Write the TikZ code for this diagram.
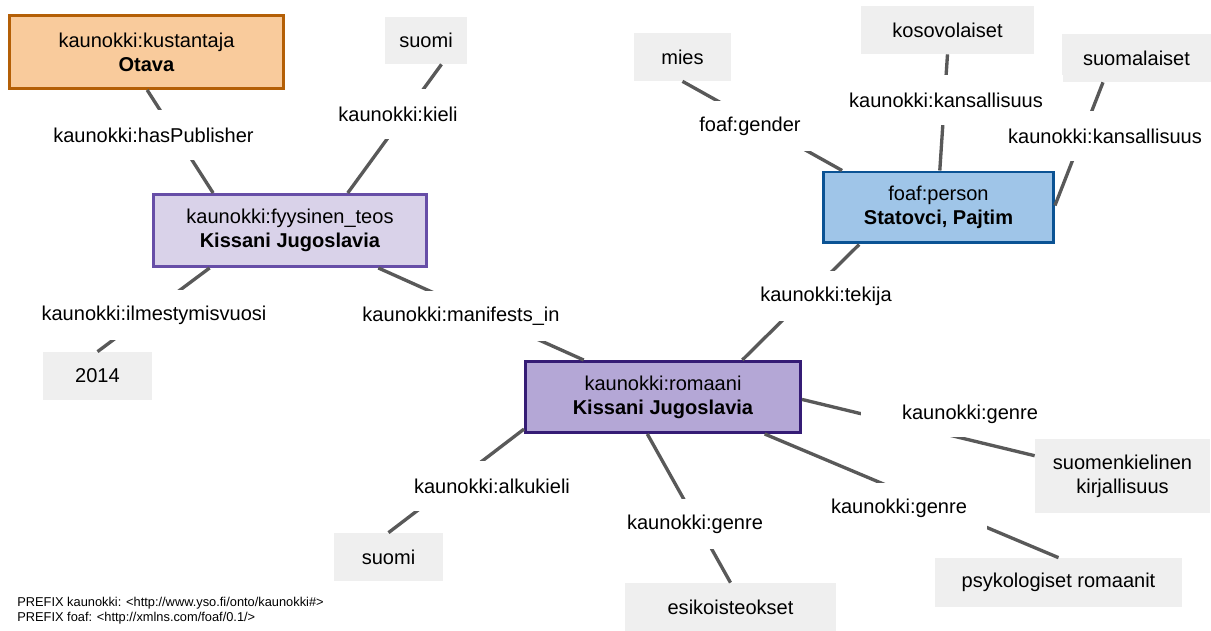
\documentclass[tikz,border=0pt]{standalone}
\usepackage{fontspec}
\setmainfont{Liberation Sans}

\definecolor{pubfill}{HTML}{F9CB9C}
\definecolor{pubdraw}{HTML}{B45F06}
\definecolor{teosfill}{HTML}{D9D2E9}
\definecolor{teosdraw}{HTML}{674EA7}
\definecolor{romfill}{HTML}{B4A7D6}
\definecolor{romdraw}{HTML}{351C75}
\definecolor{persfill}{HTML}{9FC5E8}
\definecolor{persdraw}{HTML}{0B5394}
\definecolor{valfill}{HTML}{EFEFEF}
\definecolor{linkgray}{HTML}{595959}

\begin{document}
\begin{tikzpicture}[x=0.02cm,y=-0.02cm,
    every node/.style={font=\fontsize{11.4}{13.7}\selectfont, align=center, inner sep=0pt},
    classbox/.style={draw, line width=1.7pt},
    valbox/.style={fill=valfill, minimum height=0.96cm},
    proplabel/.style={fill=white, minimum height=1cm, inner xsep=0.4cm},
    link/.style={draw=linkgray, line width=1.9pt}]
    \useasboundingbox (0,0) rectangle (1211,631);

    % Classes
    \node[classbox, fill=pubfill, draw=pubdraw, minimum width=5.48cm, minimum height=1.46cm] (otava) at (146.5,52) {kaunokki:kustantaja\\\textbf{Otava}};
    \node[classbox, fill=teosfill, draw=teosdraw, minimum width=5.46cm, minimum height=1.44cm] (teos) at (290,230.5) {kaunokki:fyysinen\_teos\\\textbf{Kissani Jugoslavia}};
    \node[classbox, fill=romfill, draw=romdraw, minimum width=5.5cm, minimum height=1.42cm] (romaani) at (663,397) {kaunokki:romaani\\\textbf{Kissani Jugoslavia}};
    \node[classbox, fill=persfill, draw=persdraw, minimum width=4.6cm, minimum height=1.42cm] (person) at (938.5,207.5) {foaf:person\\\textbf{Statovci, Pajtim}};

    % Values
    \node[valbox, minimum width=1.64cm, minimum height=0.94cm] (suomiA) at (426,40.5) {suomi};
    \node[valbox, minimum width=2.18cm] (vuosi) at (97.5,376) {2014};
    \node[valbox, minimum width=2.18cm] (suomiB) at (388.5,557) {suomi};
    \node[valbox, minimum width=4.22cm] (esik) at (730.5,607) {esikoisteokset};
    \node[valbox, minimum width=3.5cm, minimum height=1.48cm] (suomenk) at (1122.5,476) {suomenkielinen\\kirjallisuus};
    \node[valbox, minimum width=4.94cm, minimum height=0.98cm] (psyk) at (1058.5,582.5) {psykologiset romaanit};
    \node[valbox, minimum width=1.94cm] (mies) at (682.5,57) {mies};
    \node[valbox, minimum width=3.46cm] (kosovo) at (947.5,30) {kosovolaiset};
    \node[valbox, minimum width=2.98cm] (suomal) at (1136.5,58) {suomalaiset};

    % Connectors
    \draw[link] (otava.-89) -- (teos.154);
    \draw[link] (teos.33) -- (suomiA.-57);
    \draw[link] (teos.-155) -- (vuosi.north);
    \draw[link] (teos.-23) -- (romaani.155);
    \draw[link] (romaani.25) -- (person.-155);
    \draw[link] (person.159) -- (mies.south);
    \draw[link] (person.88) -- (kosovo.south);
    \draw[link] (person.1) -- (suomal.-144);
    \draw[link] (romaani.-1) -- (suomenk.167);
    \draw[link] (romaani.-20) -- (psyk.north);
    \draw[link] (romaani.-113) -- (esik.north);
    \draw[link] (romaani.-167) -- (suomiB.north);

    % Properties
    \node[proplabel] (publisher) at (153.5,135) {kaunokki:hasPublisher};
    \node[proplabel] (kieli) at (398,114) {kaunokki:kieli};
    \node[proplabel] (ilmvuosi) at (154,315) {kaunokki:ilmestymisvuosi};
    \node[proplabel] (manifests) at (461,316) {kaunokki:manifests\_in};
    \node[proplabel] (tekija) at (826,296) {kaunokki:tekija};
    \node[proplabel] (gender) at (750,126) {foaf:gender};
    \node[proplabel] (kansA) at (946,100) {kaunokki:kansallisuus};
    \node[proplabel] (kansB) at (1105,136) {kaunokki:kansallisuus};
    \node[proplabel, inner xsep=0.82cm, minimum height=0.92cm] (genreA) at (970,414) {kaunokki:genre};
    \node[proplabel] (genreB) at (899,508) {kaunokki:genre};
    \node[proplabel] (genreC) at (695,524) {kaunokki:genre};
    \node[proplabel] (alkukieli) at (492,486) {kaunokki:alkukieli};

    % Prefixes
    \node[anchor=base west, font=\fontsize{7.3}{8.5}\selectfont] (prefixA) at (17,606.5) {PREFIX kaunokki: <http://www.yso.fi/onto/kaunokki\#>};
    \node[anchor=base west, font=\fontsize{7.3}{8.5}\selectfont] (prefixB) at (17,621.5) {PREFIX foaf: <http://xmlns.com/foaf/0.1/>};
\end{tikzpicture}
\end{document}
